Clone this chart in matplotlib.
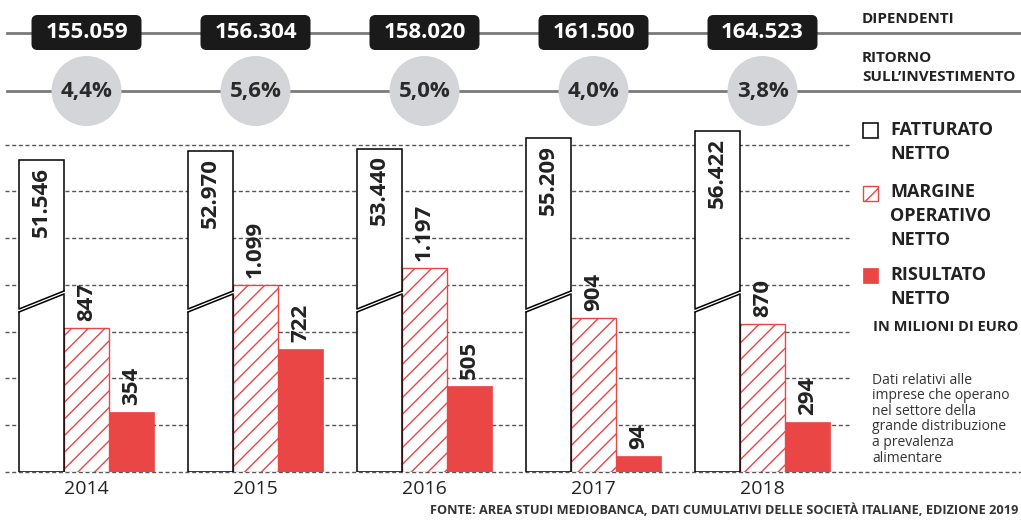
import numpy as np
import matplotlib
matplotlib.use('Agg')
import matplotlib.pyplot as plt
from matplotlib.patches import FancyBboxPatch, Circle, Rectangle, Polygon
from matplotlib.lines import Line2D

plt.rcParams['font.family'] = ['Open Sans', 'DejaVu Sans']
plt.rcParams['hatch.linewidth'] = 1.0

# data (milioni di euro)
years = ['2014', '2015', '2016', '2017', '2018']
dipendenti = [155059, 156304, 158020, 161500, 164523]
roi = [4.4, 5.6, 5.0, 4.0, 3.8]
fatturato = [51546, 52970, 53440, 55209, 56422]
margine = [847, 1099, 1197, 904, 870]
risultato = [354, 722, 505, 94, 294]

RED = '#ea4646'
INK = '#222222'

def it_int(v):
    return f'{v:,}'.replace(',', '.')

def it_pct(v):
    return f'{v:.1f}%'.replace('.', ',')

W, H = 1021, 522
fig = plt.figure(figsize=(W / 100, H / 100), dpi=100)

# overlay in pixel coords for the decorations
over = fig.add_axes([0, 0, 1, 1])
over.set_xlim(0, W)
over.set_ylim(H, 0)
over.axis('off')

# layout of the bar area
G0, GSTEP = 86.5, 169.0          # px centre of first group, px between groups
BASE, TOP = 472, 128              # px of zero line and top of plot area
LEFT, RIGHT = 5, 850
PX_PER_M = 0.1702
FAT_FLOOR, FAT_TOP = -2400, 57000  # broken scale for fatturato
bw = 45 / GSTEP

ax = fig.add_axes([LEFT / W, 1 - BASE / H, (RIGHT - LEFT) / W, (BASE - TOP) / H])
ax.patch.set_alpha(0)
ax.set_xlim((LEFT - G0) / GSTEP, (RIGHT - G0) / GSTEP)
ax.set_ylim(0, (BASE - TOP) / PX_PER_M)
for s in ax.spines.values():
    s.set_visible(False)
ax.set_yticks([])
x = np.arange(len(years))
ax.set_xticks(x)
ax.set_xticklabels(years, fontsize=14, color=INK)
ax.tick_params(axis='x', length=0, pad=6)

grid_step = 1099 / 4
for k in range(1, 8):
    ax.axhline(k * grid_step, color='#555555', lw=1.0, ls=(0, (2.9, 1.9)), zorder=0)
over.add_line(Line2D([LEFT, W], [BASE, BASE], color='#555555', lw=1.0,
                     ls=(0, (2.9, 1.9)), zorder=0))

lab = dict(rotation=90, ha='center', fontsize=16, fontweight='bold', color=INK,
           textcoords='offset points')
ax.bar(x, margine, bw, color='white', edgecolor=RED, hatch='//', lw=1.0, zorder=2)
ax.bar(x + bw, risultato, bw, color=RED, edgecolor=RED, lw=0.5, zorder=2)
for xi, v in zip(x, margine):
    ax.annotate(it_int(v), (xi, v), xytext=(0, 5), va='bottom', **lab)
for xi, v in zip(x, risultato):
    ax.annotate(it_int(v), (xi + bw, v), xytext=(0, 5), va='bottom', **lab)

# fatturato on its own (broken) scale
ax2 = ax.twinx()
ax2.set_ylim(FAT_FLOOR, FAT_TOP)
ax2.axis('off')
fat = np.array(fatturato)
ax2.bar(x - bw, fat - FAT_FLOOR, bw, bottom=FAT_FLOOR, color='white',
        edgecolor='black', lw=1.1, zorder=2)
for xi, v in zip(x, fatturato):
    ax2.annotate(it_int(v), (xi - bw, v), xytext=(0, -5), va='top', **lab)

# axis break on the fatturato bars
b_lo = [(BASE - 312) / PX_PER_M, (BASE - 294) / PX_PER_M]
b_hi = [(BASE - 309) / PX_PER_M, (BASE - 291) / PX_PER_M]
ex = 0.01
for xi in x:
    xl, xr = xi - 1.5 * bw, xi - 0.5 * bw
    ax2.add_patch(Polygon([(xl - ex, b_lo[0]), (xr + ex, b_lo[1]), (xr + ex, b_hi[1]),
                           (xl - ex, b_hi[0])], closed=True, fc='white', ec='none',
                          zorder=3, transform=ax.transData))
    for yy in (b_lo, b_hi):
        ax2.add_line(Line2D([xl, xr], yy, color='black', lw=1.1, zorder=4,
                            transform=ax.transData))

# header rows
over.add_line(Line2D([7, W], [33, 33], color='#7a7a7a', lw=2))
over.add_line(Line2D([7, W], [91, 91], color='#7a7a7a', lw=2))
for i in range(len(years)):
    cx = G0 + GSTEP * i
    over.add_patch(FancyBboxPatch((cx - 55, 15), 110, 35,
                                  boxstyle='round,pad=0,rounding_size=6',
                                  fc='#1a1a1a', ec='none', zorder=3))
    over.text(cx, 32, it_int(dipendenti[i]), ha='center', va='center', color='white',
              fontsize=16, fontweight='bold', zorder=4)
    over.add_patch(Circle((cx, 91), 35, fc='#d3d5d8', ec='none', zorder=3))
    over.text(cx, 91, it_pct(roi[i]), ha='center', va='center', color='#2a2a2a',
              fontsize=16, fontweight='bold', zorder=4)

hdr = dict(ha='left', va='center', fontsize=11, fontweight='bold', color=INK)
over.text(862, 19, 'DIPENDENTI', **hdr)
over.text(862, 58, 'RITORNO', **hdr)
over.text(862, 77, 'SULL\u2019INVESTIMENTO', **hdr)

# legend
over.add_patch(Rectangle((863, 123), 15, 15, fc='white', ec='black', lw=1.1))
over.add_patch(Rectangle((863, 186), 15, 15, fc='white', ec=RED, lw=1.0, hatch='/'))
over.add_patch(Rectangle((863, 268), 15, 15, fc=RED, ec=RED, lw=0.5))
leg = [(130, 'FATTURATO'), (154, 'NETTO'), (192, 'MARGINE'), (216, 'OPERATIVO'),
       (240, 'NETTO'), (275, 'RISULTATO'), (299, 'NETTO')]
for yy, t in leg:
    over.text(890, yy, t, ha='left', va='center', fontsize=13, fontweight='bold',
              color=INK)
over.text(873, 327, 'IN MILIONI DI EURO', ha='left', va='center', fontsize=10.5,
          fontweight='bold', color=INK)

note = ['Dati relativi alle', 'imprese che operano', 'nel settore della',
        'grande distribuzione', 'a prevalenza', 'alimentare']
for k, t in enumerate(note):
    over.text(872, 380 + 15.6 * k, t, ha='left', va='center', fontsize=10,
              color='#333333')

over.text(1018, 510, 'FONTE: AREA STUDI MEDIOBANCA, DATI CUMULATIVI DELLE SOCIET\u00c0 '
          'ITALIANE, EDIZIONE 2019', ha='right', va='center', fontsize=9.2,
          fontweight='bold', color='#333333')

fig.savefig('out.png', dpi=100)
